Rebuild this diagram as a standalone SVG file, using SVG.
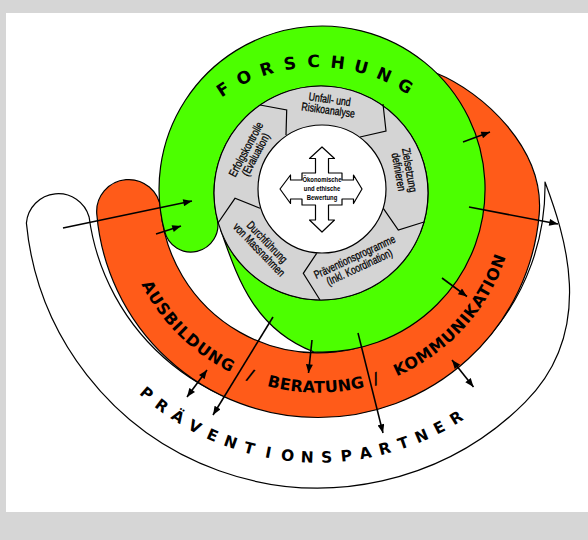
<svg xmlns="http://www.w3.org/2000/svg" width="588" height="540" viewBox="0 0 588 540">
<style>
.edge{stroke:#000;stroke-width:1.2;stroke-linejoin:round}
.seg{fill:none;stroke:#000;stroke-width:1.2;stroke-linejoin:miter}
.arr{fill:none;stroke:#000;stroke-width:1.6;marker-end:url(#ah)}
.arr2{fill:none;stroke:#000;stroke-width:1.6;marker-end:url(#ah);marker-start:url(#ah)}
.big{font-family:"DejaVu Sans","Liberation Sans",Arial,sans-serif;font-weight:bold;fill:#000;text-anchor:middle}
.f1{font-size:17px}
.f2{font-size:16px}
.f3{font-size:15.5px}
.sm{font-family:"Liberation Sans",Arial,sans-serif;font-size:11.5px;fill:#000;stroke:#000;stroke-width:0.3;text-anchor:middle}
.ctr{font-family:"Liberation Sans",Arial,sans-serif;font-size:8px;font-weight:bold;fill:#000;text-anchor:middle}
</style>
<defs>
<marker id="ah" viewBox="0 0 10 8" refX="10" refY="4" markerWidth="10" markerHeight="7" markerUnits="userSpaceOnUse" orient="auto-start-reverse">
<path d="M0,0 L10,4 L0,8 Z" fill="#000"/>
</marker>
<path id="orangePath" d="M123,229.4 A198,198 0 0 0 515.2,177.7"/>
</defs>

<rect x="0" y="0" width="588" height="540" fill="#d6d6d6"/>
<rect x="6" y="13" width="582" height="499" fill="#fff"/>

<g id="praeventionspartner">
<path class="edge" fill="#fff" d="M545,182 A229,229 0 0 1 89.1,217 A32,32 0 0 0 26.4,223.1 A293,293 0 0 0 525.2,402.2 C597.7,329.7 563.9,232.6 545,182 Z"/>
<g class="big f3">
<text transform="translate(146.8,393.3) rotate(40.8)" y="5.6">P</text>
<text transform="translate(162,405.5) rotate(36.5)" y="5.6">R</text>
<text transform="translate(178.1,416.5) rotate(32.3)" y="5.6">Ä</text>
<text transform="translate(195,426.4) rotate(28)" y="5.6">V</text>
<text transform="translate(212.6,434.9) rotate(23.7)" y="5.6">E</text>
<text transform="translate(230.8,442) rotate(19.5)" y="5.6">N</text>
<text transform="translate(249.4,447.9) rotate(15.2)" y="5.6">T</text>
<text transform="translate(268.4,452.3) rotate(10.9)" y="5.6">I</text>
<text transform="translate(287.7,455.2) rotate(6.6)" y="5.6">O</text>
<text transform="translate(307.2,456.8) rotate(2.4)" y="5.6">N</text>
<text transform="translate(326.7,456.9) rotate(-1.9)" y="5.6">S</text>
<text transform="translate(346.2,455.5) rotate(-6.2)" y="5.6">P</text>
<text transform="translate(365.5,452.6) rotate(-10.4)" y="5.6">A</text>
<text transform="translate(384.5,448.4) rotate(-14.7)" y="5.6">R</text>
<text transform="translate(403.2,442.8) rotate(-19)" y="5.6">T</text>
<text transform="translate(421.4,435.7) rotate(-23.3)" y="5.6">N</text>
<text transform="translate(439,427.3) rotate(-27.5)" y="5.6">E</text>
<text transform="translate(456,417.7) rotate(-31.8)" y="5.6">R</text>
</g>
</g>

<g id="ausbildung">
<path class="edge" fill="#ff5b19" d="M436,73 C483,92 544.9,148.7 539.2,214.4 A222,222 0 0 1 96.8,214.3 A32,32 0 0 1 160.6,208.8 A158,158 0 1 0 427.8,81.3 Z"/>
<text class="big f2"><textPath href="#orangePath" startOffset="122.3" letter-spacing="1.1">AUSBILDUNG</textPath></text>
<text class="big f2"><textPath href="#orangePath" startOffset="204.9">/</textPath></text>
<text class="big f2"><textPath href="#orangePath" startOffset="273.9" letter-spacing="0.3">BERATUNG</textPath></text>
<text class="big f2"><textPath href="#orangePath" startOffset="336.3">/</textPath></text>
<text class="big f2"><textPath href="#orangePath" startOffset="440.6" letter-spacing="0.8">KOMMUNIKATION</textPath></text>
</g>

<g id="forschung">
<path class="edge" fill="#4cff00" d="M164.6,231.2 A163,163 0 1 1 313.5,351.8 C251.1,327.5 235.9,271.9 220.5,229.6 A107,107 0 0 0 426.4,174.4 A107,107 0 1 0 217.2,218.9 A27,27 0 0 1 164.6,231.2 Z"/>
<g class="big f1">
<text transform="translate(222.9,89.2) rotate(-33.4)" y="6.2">F</text>
<text transform="translate(243.8,77.4) rotate(-25.3)" y="6.2">O</text>
<text transform="translate(266.3,68.7) rotate(-17.3)" y="6.2">R</text>
<text transform="translate(289.7,63.2) rotate(-9.2)" y="6.2">S</text>
<text transform="translate(313.7,61) rotate(-1.1)" y="6.2">C</text>
<text transform="translate(337.7,62.2) rotate(6.9)" y="6.2">H</text>
<text transform="translate(361.3,66.8) rotate(15)" y="6.2">U</text>
<text transform="translate(384.1,74.7) rotate(23.1)" y="6.2">N</text>
<text transform="translate(405.5,85.7) rotate(31.2)" y="6.2">G</text>
</g>
</g>

<g id="zyklus">
<circle class="edge" cx="321" cy="193" r="107" fill="#d4d4d4"/>
<polyline class="seg" points="260,105 286.7,110 286,135"/>
<polyline class="seg" points="383,104 386,131 360,137"/>
<polyline class="seg" points="383.3,208.3 398.3,230 424,222"/>
<polyline class="seg" points="316.7,253.3 303.3,273.3 320,300"/>
<polyline class="seg" points="260,208.3 235,198.3 218,223"/>
</g>

<g id="unfall">
<g transform="translate(329,105) rotate(8) scale(0.76,1)">
<text class="sm" y="-1.8">Unfall- und</text>
<text class="sm" y="9">Risikoanalyse</text>
</g>
</g>
<g id="zielsetzung">
<g transform="translate(404,171) rotate(80) scale(0.76,1)">
<text class="sm" y="-1.8">Zielsetzung</text>
<text class="sm" y="9.2">definieren</text>
</g>
</g>
<g id="praeventionsprogramme">
<g transform="translate(357,262) rotate(-25) scale(0.74,1)">
<text class="sm" y="-1.8">Präventionsprogramme</text>
<text class="sm" y="9.6">(Inkl. Koordination)</text>
</g>
</g>
<g id="durchfuehrung">
<g transform="translate(263,246) rotate(46) scale(0.76,1)">
<text class="sm" y="-1.8">Durchführung</text>
<text class="sm" y="9.2">von Massnahmen</text>
</g>
</g>
<g id="erfolgskontrolle">
<g transform="translate(251,152) rotate(-62) scale(0.76,1)">
<text class="sm" y="-1.8">Erfolgskontrolle</text>
<text class="sm" y="9.2">(Evaluation)</text>
</g>
</g>

<g id="bewertung">
<circle class="edge" cx="322" cy="189" r="64" fill="#fff"/>
<polygon class="edge" fill="#fff" points="322,147 334.5,158.5 328.5,158.5 328.5,173 342,173 342,180 353.5,180 353.5,175 362,189 353.5,203.5 353.5,199 342,199 342,205 328.5,205 328.5,220 334.5,220 322,232 309.5,220 315.5,220 315.5,205 302,205 302,199 290.5,199 290.5,203.5 280,189 290.5,175 290.5,180 302,180 302,173 315.5,173 315.5,158.5 309.5,158.5"/>
<g transform="translate(322,0) scale(0.74,1)">
<text class="ctr" x="0" y="182.2">Ökonomische</text>
<text class="ctr" x="0" y="191.2">und ethische</text>
<text class="ctr" x="0" y="200.2">Bewertung</text>
</g>
</g>

<g id="connectors">
<line class="arr" x1="63" y1="228" x2="192" y2="201"/>
<line class="arr" x1="156" y1="234" x2="181" y2="226"/>
<line class="arr" x1="463" y1="142" x2="490" y2="132"/>
<line class="arr" x1="469" y1="207" x2="558" y2="224"/>
<line class="arr" x1="442" y1="278" x2="467" y2="296.5"/>
<line class="arr2" x1="452" y1="360" x2="473.5" y2="387"/>
<line class="arr2" x1="207" y1="370" x2="187" y2="397"/>
<line class="arr" x1="273" y1="317" x2="213" y2="415"/>
<line class="arr" x1="312" y1="340" x2="308.5" y2="373"/>
<line class="arr" x1="358" y1="333" x2="383" y2="433"/>
</g>
</svg>
